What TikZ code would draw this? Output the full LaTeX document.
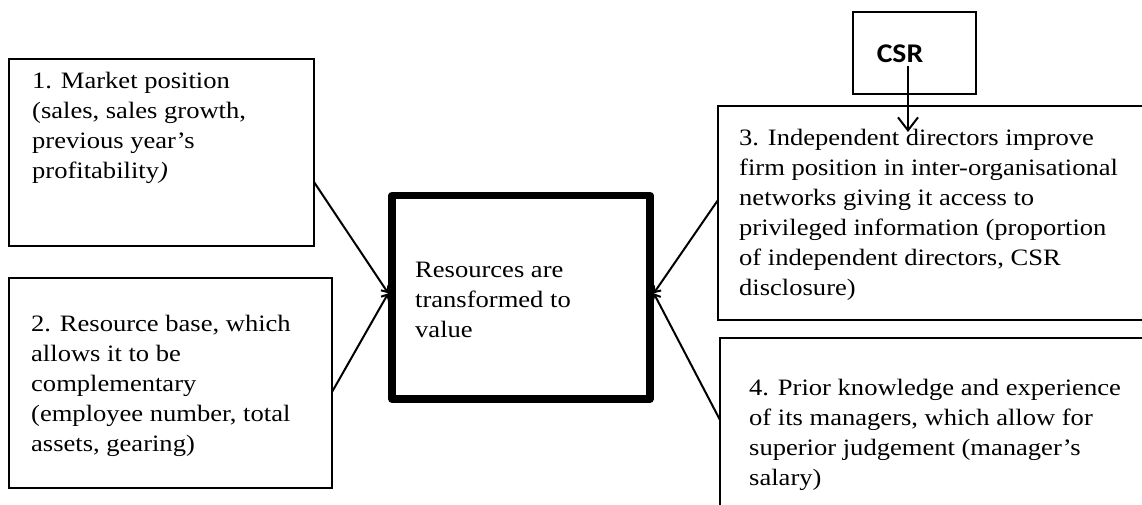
\documentclass[tikz,border=0pt]{standalone}
\usepackage{fontspec}
\setmainfont{Liberation Serif}[FakeStretch=1.13]
\newfontfamily\csrfont{Carlito}[FakeStretch=1.1]
\usetikzlibrary{arrows.meta,calc}
\begin{document}
\begin{tikzpicture}[x=1pt,y=-1pt,
  box/.style={draw,line width=2.7pt,rectangle,inner sep=0pt,outer sep=0pt,anchor=north west},
  mainbox/.style={draw,line width=7.5pt,line join=round,rectangle,inner sep=0pt,anchor=north west},
  txt/.style={anchor=north west,inner sep=0pt,align=left,font=\fontsize{23.5}{30}\selectfont},
  conn/.style={line width=2pt},
  tip/.style={-{Straight Barb[length=5pt,width=9pt]}},
]
\useasboundingbox (0,0) rectangle (1142,504);
\clip (0,0) rectangle (1142,504);

% boxes
\node[box,minimum width=305pt,minimum height=187pt] (b1) at (9,59) {};
\node[box,minimum width=323pt,minimum height=210pt] (b2) at (9,278) {};
\node[mainbox,minimum width=258pt,minimum height=203.5pt] (c) at (388.25,191.75) {};
\node[box,minimum width=450pt,minimum height=214pt] (b3) at (718,106) {};
\node[box,minimum width=450pt,minimum height=200pt] (b4) at (720,338) {};
\node[box,minimum width=123pt,minimum height=82pt] (csr) at (853,12) {};

% texts
\node[txt] (t1) at (32,68) {\rule{0pt}{20pt}1. Market position\\(sales, sales growth,\\previous year’s\\profitability\textit{)}};
\node[txt] (t2) at (31,311) {\rule{0pt}{20pt}2. Resource base, which\\allows it to be\\complementary\\(employee number, total\\assets, gearing)};
\node[txt] (tc) at (415,257) {\rule{0pt}{20pt}Resources are\\transformed to\\value};
\node[txt] (t3) at (739,125) {\rule{0pt}{20pt}3. Independent directors improve\\firm position in inter-organisational\\networks giving it access to\\privileged information (proportion\\of independent directors, CSR\\disclosure)};
\node[txt] (t4) at (749,375) {\rule{0pt}{20pt}4. Prior knowledge and experience\\of its managers, which allow for\\superior judgement (manager’s\\salary)};
\node[anchor=base,inner sep=0pt,font=\csrfont\bfseries\fontsize{27}{30}\selectfont] (csrt) at (900,62.7) {CSR};

% connector points on the box borders
\coordinate (p1) at (314,182);
\coordinate (p2) at (332,392);
\coordinate (p3) at (718,200);
\coordinate (p4) at (720,420);
\coordinate (ax) at (908,0);
\coordinate (atip) at (908,132);

\draw[conn,tip] (p1) -- ([yshift=4pt]c.west);
\draw[conn,tip] (p2) -- ([yshift=4pt]c.west);
\draw[conn,tip] (p3) -- ([yshift=4pt]c.east);
\draw[conn,tip] (p4) -- ([yshift=4pt]c.east);
\draw[conn,-{Straight Barb[length=13pt,width=20pt]}] ([yshift=-3pt]csrt.base -| ax) -- (atip);
\end{tikzpicture}
\end{document}
